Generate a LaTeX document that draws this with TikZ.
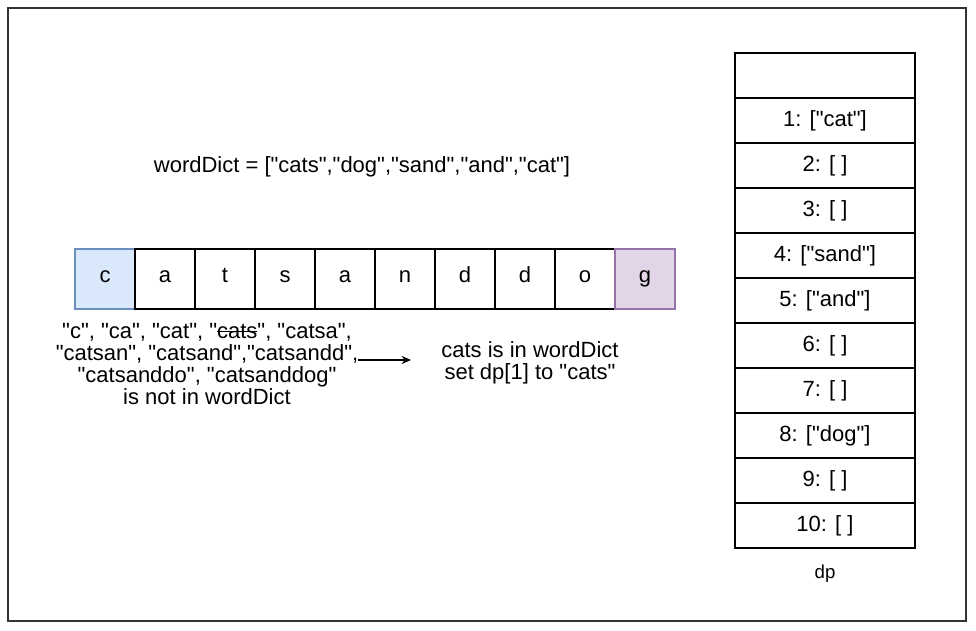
\documentclass[tikz,border=0pt]{standalone}
\usepackage{fontspec}
\setmainfont{Liberation Sans}[Ligatures=TeXOff]
\usetikzlibrary{arrows.meta, positioning}

\definecolor{cblue}{HTML}{DAE8FC}
\definecolor{cbluedraw}{HTML}{6C8EBF}
\definecolor{cpurple}{HTML}{E1D5E7}
\definecolor{cpurpledraw}{HTML}{9673A6}

\newcommand\strikeword[1]{\setbox0\hbox{#1}\rlap{\rule[0.28em]{\wd0}{0.06em}}\box0}

\begin{document}
\begin{tikzpicture}[x=0.75pt, y=-0.75pt, >={Stealth[length=7pt,width=6pt]},
      cell/.style={rectangle, draw, line width=0.8pt,
          minimum width=45pt, minimum height=45pt, inner sep=0pt,
          text height=0.75em, text depth=0.2em,
          font=\fontsize{16.5}{16.5}\selectfont},
      dpcell/.style={rectangle, draw, line width=0.8pt,
          minimum width=135pt, minimum height=33.75pt, inner sep=0pt,
          font=\fontsize{16.5}{16.5}\selectfont},
      txt/.style={align=center, inner sep=0pt,
          font=\fontsize{16.5}{16.5}\selectfont}]
    \useasboundingbox (0,0) rectangle (976,631);
    \draw[line width=1pt, black!80] (8,8) rectangle (966,621);

    % the string
    \node[txt] (dict) at (362,167)
      {wordDict = ["cats","dog","sand","and","cat"]};
    \node[cell, fill=cblue, draw=cbluedraw] (s1) at (105,279) {c};
    \foreach \ch [count=\i from 2] in {a,t,s,a,n,d,d,o}
      \node[cell] (s\i) at ({45+60*\i},279) {\ch};
    \node[cell, fill=cpurple, draw=cpurpledraw] (s10) at (645,279) {g};

    % prefixes
    \node[txt] (miss) at (207,364)
    {
      "c", "ca", "cat", "\strikeword{cats}", "catsa",\\
      "catsan", "catsand","catsandd",\\
      "catsanddo", "catsanddog"\\
      is not in wordDict
    };
    \node[txt] (hit) at (530,363)
    {
      cats is in wordDict\\
      set dp[1] to "cats"
    };
    \coordinate (tail) at (358,360);
    \coordinate (tip) at (411,360);
    \draw[->, line width=0.9pt] (tail) -- (tip);

    % dp table
    \foreach \lbl [count=\i from 0] in {{}, {1: ["cat"]}, {2: [ ]}, {3: [ ]},
        {4: ["sand"]}, {5: ["and"]}, {6: [ ]}, {7: [ ]}, {8: ["dog"]},
        {9: [ ]}, {10: [ ]}}
      \node[dpcell] (dp\i) at (825,{75.5+45*\i}) {\lbl};
    \node[font=\fontsize{14}{14}\selectfont, below=9pt of dp10] (dpname) {dp};
  \end{tikzpicture}
\end{document}
